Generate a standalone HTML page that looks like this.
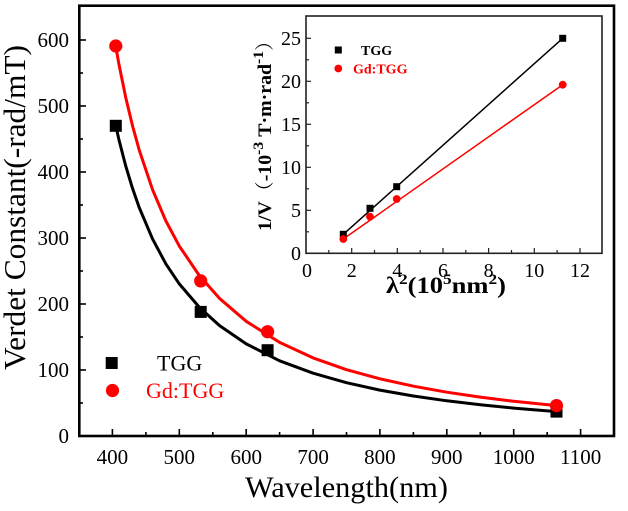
<!DOCTYPE html>
<html>
<head>
<meta charset="utf-8">
<style>
  html, body { margin: 0; padding: 0; background: #ffffff; }
  svg { display: block; font-family: "Liberation Serif", "Times New Roman", serif; }
  svg text, svg tspan { font-family: "Liberation Serif", "Times New Roman", serif; }
  svg text.cjk, svg text.cjk tspan { font-family: "Liberation Serif", "Noto Serif CJK SC", "Noto Sans CJK SC", serif; }
</style>
</head>
<body>
<svg width="628" height="511" viewBox="0 0 628 511" xmlns="http://www.w3.org/2000/svg" font-family="Liberation Serif, serif">
  <rect x="0" y="0" width="628" height="511" fill="#ffffff"/>

  <!-- ===== Main plot frame ===== -->
  <rect x="79.3" y="5.7" width="534.7" height="430.3" fill="none" stroke="#000" stroke-width="2.6"/>

  <!-- main x ticks (inward) -->
  <g stroke="#000" stroke-width="1.6">
    <line x1="112.4" y1="436" x2="112.4" y2="429"/>
    <line x1="179.3" y1="436" x2="179.3" y2="429"/>
    <line x1="246.2" y1="436" x2="246.2" y2="429"/>
    <line x1="313.1" y1="436" x2="313.1" y2="429"/>
    <line x1="379.9" y1="436" x2="379.9" y2="429"/>
    <line x1="446.8" y1="436" x2="446.8" y2="429"/>
    <line x1="513.7" y1="436" x2="513.7" y2="429"/>
    <line x1="580.6" y1="436" x2="580.6" y2="429"/>
    <line x1="145.9" y1="436" x2="145.9" y2="432"/>
    <line x1="212.8" y1="436" x2="212.8" y2="432"/>
    <line x1="279.6" y1="436" x2="279.6" y2="432"/>
    <line x1="346.5" y1="436" x2="346.5" y2="432"/>
    <line x1="413.4" y1="436" x2="413.4" y2="432"/>
    <line x1="480.3" y1="436" x2="480.3" y2="432"/>
    <line x1="547.2" y1="436" x2="547.2" y2="432"/>
  </g>
  <!-- main y ticks (inward) -->
  <g stroke="#000" stroke-width="1.6">
    <line x1="79" y1="370" x2="86" y2="370"/>
    <line x1="79" y1="304" x2="86" y2="304"/>
    <line x1="79" y1="238" x2="86" y2="238"/>
    <line x1="79" y1="172" x2="86" y2="172"/>
    <line x1="79" y1="106" x2="86" y2="106"/>
    <line x1="79" y1="40" x2="86" y2="40"/>
    <line x1="79" y1="403" x2="83" y2="403"/>
    <line x1="79" y1="337" x2="83" y2="337"/>
    <line x1="79" y1="271" x2="83" y2="271"/>
    <line x1="79" y1="205" x2="83" y2="205"/>
    <line x1="79" y1="139" x2="83" y2="139"/>
    <line x1="79" y1="73" x2="83" y2="73"/>
  </g>

  <!-- main y tick labels -->
  <g font-size="21" fill="#000" text-anchor="end" font-family="Liberation Serif, serif">
    <text x="69" y="443">0</text>
    <text x="69" y="377">100</text>
    <text x="69" y="311">200</text>
    <text x="69" y="245">300</text>
    <text x="69" y="179">400</text>
    <text x="69" y="113">500</text>
    <text x="69" y="47">600</text>
  </g>
  <!-- main x tick labels -->
  <g font-size="21" fill="#000" text-anchor="middle" font-family="Liberation Serif, serif">
    <text x="112.4" y="464">400</text>
    <text x="179.3" y="464">500</text>
    <text x="246.2" y="464">600</text>
    <text x="313.1" y="464">700</text>
    <text x="379.9" y="464">800</text>
    <text x="446.8" y="464">900</text>
    <text x="513.7" y="464">1000</text>
    <text x="580.6" y="464">1100</text>
  </g>

  <!-- axis titles -->
  <text x="245" y="497" font-size="30" fill="#000" font-family="Liberation Serif, serif" textLength="203" lengthAdjust="spacingAndGlyphs">Wavelength(nm)</text>
  <text transform="translate(25,207.5) rotate(-90)" text-anchor="middle" font-size="31" fill="#000" font-family="Liberation Serif, serif" textLength="325" lengthAdjust="spacingAndGlyphs">Verdet Constant(-rad/mT)</text>

  <!-- main curves -->
  <path d="M115.8,125.8 L119.1,140.4 L125.8,166.2 L132.5,188.3 L139.2,207.5 L152.6,239.1 L165.9,263.9 L179.3,283.9 L199.4,307.4 L219.4,325.5 L246.2,343.9 L279.6,360.8 L313.1,373.2 L346.5,382.7 L379.9,390.1 L413.4,396.0 L446.8,400.8 L480.3,404.8 L513.7,408.1 L556.5,411.6" fill="none" stroke="#000" stroke-width="3" stroke-linejoin="round"/>
  <path d="M115.8,46.6 L119.1,65.1 L125.8,97.8 L132.5,125.7 L139.2,150.0 L152.6,189.8 L165.9,221.0 L179.3,246.1 L199.4,275.6 L219.4,298.3 L246.2,321.3 L279.6,342.4 L313.1,357.9 L346.5,369.7 L379.9,378.8 L413.4,386.2 L446.8,392.2 L480.3,397.1 L513.7,401.3 L556.5,405.6" fill="none" stroke="#ff0000" stroke-width="3" stroke-linejoin="round"/>

  <!-- main markers -->
  <g fill="#000">
    <rect x="109.8" y="119.8" width="12" height="12"/>
    <rect x="194.7" y="305.9" width="12" height="12"/>
    <rect x="261.6" y="344.2" width="12" height="12"/>
    <rect x="550.5" y="405.6" width="12" height="12"/>
  </g>
  <g fill="#ff0000">
    <circle cx="115.8" cy="46" r="6.6"/>
    <circle cx="200.7" cy="280.9" r="6.6"/>
    <circle cx="267.6" cy="331.7" r="6.6"/>
    <circle cx="556.5" cy="405.6" r="6.6"/>
  </g>

  <!-- main legend -->
  <rect x="105.7" y="357" width="12" height="12" fill="#000"/>
  <text x="157" y="370.5" font-size="22" fill="#000" font-family="Liberation Serif, serif">TGG</text>
  <circle cx="112.5" cy="390.5" r="6.6" fill="#ff0000"/>
  <text x="146" y="398" font-size="22" fill="#ff0000" font-family="Liberation Serif, serif">Gd:TGG</text>

  <!-- ===== Inset ===== -->
  <rect x="306" y="16" width="296" height="237.3" fill="#fff" stroke="#222" stroke-width="1.6"/>

  <!-- inset x ticks -->
  <g stroke="#222" stroke-width="1.2">
    <line x1="351.7" y1="253.3" x2="351.7" y2="248"/>
    <line x1="397.3" y1="253.3" x2="397.3" y2="248"/>
    <line x1="443" y1="253.3" x2="443" y2="248"/>
    <line x1="488.6" y1="253.3" x2="488.6" y2="248"/>
    <line x1="534.3" y1="253.3" x2="534.3" y2="248"/>
    <line x1="580" y1="253.3" x2="580" y2="248"/>
    <line x1="328.8" y1="253.3" x2="328.8" y2="250"/>
    <line x1="374.5" y1="253.3" x2="374.5" y2="250"/>
    <line x1="420.2" y1="253.3" x2="420.2" y2="250"/>
    <line x1="465.8" y1="253.3" x2="465.8" y2="250"/>
    <line x1="511.5" y1="253.3" x2="511.5" y2="250"/>
    <line x1="557.1" y1="253.3" x2="557.1" y2="250"/>
  </g>
  <!-- inset y ticks -->
  <g stroke="#222" stroke-width="1.2">
    <line x1="306" y1="210.3" x2="311" y2="210.3"/>
    <line x1="306" y1="167.3" x2="311" y2="167.3"/>
    <line x1="306" y1="124.3" x2="311" y2="124.3"/>
    <line x1="306" y1="81.3" x2="311" y2="81.3"/>
    <line x1="306" y1="38.3" x2="311" y2="38.3"/>
    <line x1="306" y1="231.8" x2="309" y2="231.8"/>
    <line x1="306" y1="188.8" x2="309" y2="188.8"/>
    <line x1="306" y1="145.8" x2="309" y2="145.8"/>
    <line x1="306" y1="102.8" x2="309" y2="102.8"/>
    <line x1="306" y1="59.8" x2="309" y2="59.8"/>
  </g>

  <!-- inset tick labels -->
  <g font-size="20" fill="#000" text-anchor="end" font-family="Liberation Serif, serif">
    <text x="301" y="260">0</text>
    <text x="301" y="217">5</text>
    <text x="301" y="174">10</text>
    <text x="301" y="131">15</text>
    <text x="301" y="88">20</text>
    <text x="301" y="45">25</text>
  </g>
  <g font-size="20" fill="#000" text-anchor="middle" font-family="Liberation Serif, serif">
    <text x="307" y="277">0</text>
    <text x="351.7" y="277">2</text>
    <text x="397.3" y="277">4</text>
    <text x="443" y="277">6</text>
    <text x="488.6" y="277">8</text>
    <text x="534.3" y="277">10</text>
    <text x="580" y="277">12</text>
  </g>

  <!-- inset axis titles -->
  <text x="386" y="293" font-size="23" font-weight="bold" fill="#000" font-family="Liberation Serif, serif" textLength="120" lengthAdjust="spacingAndGlyphs">λ<tspan dy="-9" font-size="15">2</tspan><tspan dy="9">(10</tspan><tspan dy="-9" font-size="15">5</tspan><tspan dy="9">nm</tspan><tspan dy="-9" font-size="15">2</tspan><tspan dy="9">)</tspan></text>
  <text class="cjk" transform="translate(271,131) rotate(-90)" text-anchor="middle" font-size="19" font-weight="bold" fill="#000" font-family="Liberation Serif, Noto Serif CJK SC, serif" textLength="200" lengthAdjust="spacingAndGlyphs">1/V<tspan font-weight="normal">（</tspan>-10<tspan dy="-8" font-size="15">-3</tspan><tspan dy="8"> T·m·rad</tspan><tspan dy="-8" font-size="15">-1</tspan><tspan dy="8" font-weight="normal">）</tspan></text>

  <!-- inset lines -->
  <line x1="343.3" y1="234.3" x2="562.7" y2="38.3" stroke="#000" stroke-width="1.5"/>
  <line x1="343.3" y1="239" x2="562.7" y2="84.7" stroke="#ff0000" stroke-width="1.5"/>

  <!-- inset markers -->
  <g fill="#000">
    <rect x="339.8" y="230.8" width="7" height="7"/>
    <rect x="366.5" y="204.8" width="7" height="7"/>
    <rect x="393.2" y="183.2" width="7" height="7"/>
    <rect x="559.2" y="34.8" width="7" height="7"/>
  </g>
  <g fill="#ff0000">
    <circle cx="343.3" cy="239" r="3.9"/>
    <circle cx="370" cy="216.7" r="3.9"/>
    <circle cx="396.7" cy="199" r="3.9"/>
    <circle cx="562.7" cy="84.7" r="3.9"/>
  </g>

  <!-- inset legend -->
  <rect x="334.8" y="46.5" width="7" height="7" fill="#000"/>
  <text x="361" y="55" font-size="14" font-weight="bold" fill="#000" font-family="Liberation Serif, serif">TGG</text>
  <circle cx="338.3" cy="68.5" r="3.9" fill="#ff0000"/>
  <text x="353" y="73.5" font-size="14" font-weight="bold" fill="#ff0000" font-family="Liberation Serif, serif">Gd:TGG</text>
</svg>
</body>
</html>
